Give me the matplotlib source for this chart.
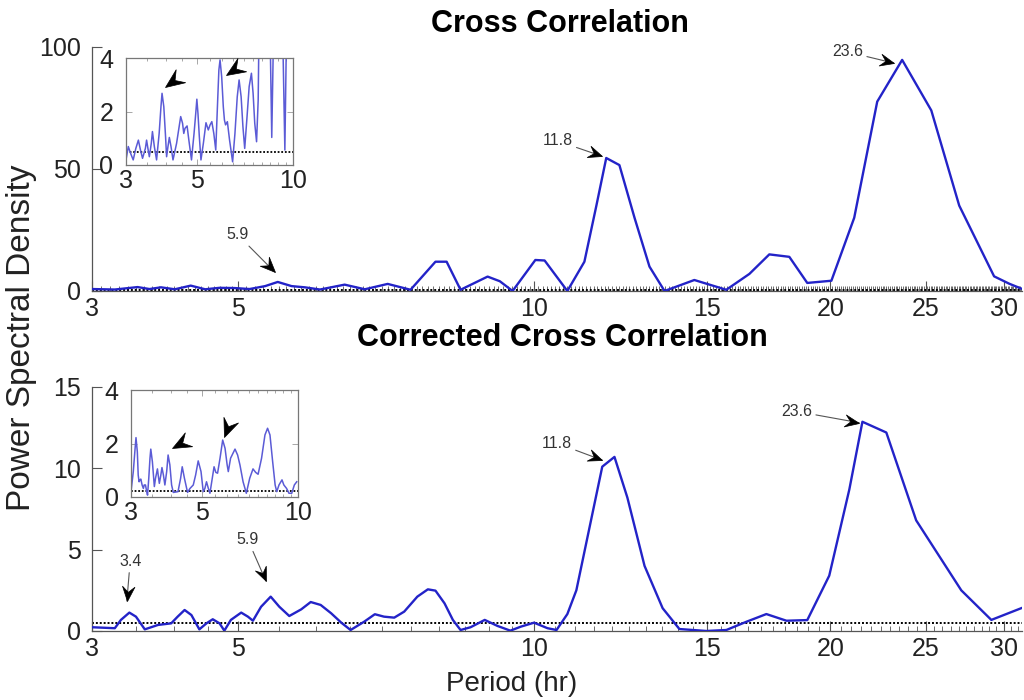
import numpy as np
import matplotlib
matplotlib.use("Agg")
import matplotlib.pyplot as plt
from matplotlib.path import Path
from matplotlib.ticker import FixedLocator, FixedFormatter, NullFormatter

plt.rcParams['font.family'] = ['Liberation Sans', 'DejaVu Sans']

LINE = "#2323c8"
INSET_LINE = "#5b5bd6"
SPINE = "#555555"
THRESH_MAIN = 0.5
THRESH_INSET_TOP = 0.5
THRESH_INSET_BOT = 0.22

# ---- spectra (period in hours, power spectral density) ----
top_period = [3.00, 3.25, 3.52, 3.67, 3.82, 4.01, 4.24, 4.46, 4.69, 4.95,
              5.14, 5.33, 5.49, 5.67, 5.85, 6.06, 6.42, 6.73, 7.10, 7.49,
              7.94, 8.15, 8.42, 8.97, 9.23, 9.51, 10.03, 10.25, 10.81, 11.25,
              11.57, 11.84, 12.21, 12.65, 13.10, 13.57, 14.55, 15.68, 16.55, 17.34,
              18.17, 18.95, 20.05, 21.15, 22.32, 23.66, 25.33, 27.04, 29.34, 30.39,
              31.26]
top_psd = [0.8, 0.6, 1.6, 0.8, 1.5, 0.7, 2.2, 0.7, 1.3, 1.2,
           0.8, 2.0, 3.7, 2.0, 1.5, 0.6, 2.6, 0.7, 2.9, 0.5,
           12.0, 12.0, 0.5, 5.9, 4.0, 0.0, 12.7, 12.5, 0.0, 12.0,
           35.0, 54.5, 51.6, 30.0, 10.0, 0.0, 4.5, 0.5, 7.0, 15.0,
           14.0, 3.3, 4.2, 30.0, 77.6, 94.7, 74.0, 35.0, 6.0, 3.0,
           1.0]

bot_period = [3.00, 3.25, 3.32, 3.42, 3.50, 3.61, 3.78, 3.96, 4.05, 4.15,
              4.25, 4.37, 4.48, 4.58, 4.69, 4.77, 4.88, 5.04, 5.12, 5.18,
              5.28, 5.40, 5.51, 5.64, 5.80, 5.93, 6.07, 6.22, 6.37, 6.51,
              6.72, 6.89, 7.04, 7.21, 7.38, 7.61, 7.80, 7.94, 8.11, 8.27,
              8.42, 8.62, 8.91, 9.18, 9.46, 9.70, 10.0, 10.32, 10.54, 10.81,
              11.04, 11.73, 12.07, 12.44, 12.95, 13.51, 14.05, 14.97, 15.68, 16.44,
              17.22, 18.05, 18.95, 19.95, 20.91, 21.56, 22.80, 24.45, 27.17, 29.15,
              31.26]
bot_psd = [0.23, 0.17, 0.68, 1.13, 0.88, 0.10, 0.37, 0.47, 0.88, 1.29,
           0.98, 0.10, 0.47, 0.72, 0.47, 0.02, 0.68, 1.13, 0.88, 0.63,
           1.49, 2.11, 1.49, 0.92, 1.33, 1.78, 1.60, 1.09, 0.51, 0.06,
           0.57, 1.03, 0.88, 0.82, 1.19, 2.11, 2.56, 2.48, 1.70, 0.68,
           0.06, 0.23, 0.68, 0.31, 0.02, 0.27, 0.51, 0.17, 0.06, 1.04,
           2.50, 10.1, 10.7, 8.2, 4.0, 1.4, 0.12, 0.0, 0.06, 0.57,
           1.04, 0.63, 0.67, 3.4, 8.7, 12.86, 12.2, 6.8, 2.5, 0.68,
           1.4]

# zoomed 3-10 h views
tin_period = [3.00, 3.05, 3.10, 3.16, 3.22, 3.28, 3.33, 3.38, 3.45, 3.48,
              3.52, 3.55, 3.60, 3.63, 3.68, 3.74, 3.81, 3.86, 3.89, 3.94,
              3.99, 4.02, 4.06, 4.10, 4.15, 4.21, 4.32, 4.40, 4.45, 4.51,
              4.55, 4.59, 4.66, 4.72, 4.81, 4.90, 4.96, 5.00, 5.04, 5.09,
              5.15, 5.24, 5.34, 5.39, 5.43, 5.50, 5.57, 5.65, 5.73, 5.81,
              5.86, 5.91, 5.98, 6.05, 6.10, 6.15, 6.23, 6.33, 6.47, 6.58,
              6.69, 6.78, 6.88, 6.97, 7.06, 7.18, 7.29, 7.41, 7.50, 7.59,
              7.69, 7.78, 7.95, 8.25, 8.45, 8.58, 8.72, 9.00, 9.25, 9.43,
              9.62, 10.0]
tin_psd = [0.19, 0.69, 0.44, 0.19, 0.62, 0.93, 0.56, 0.25, 0.62, 0.93,
           0.56, 0.31, 0.81, 1.25, 0.69, 0.19, 1.18, 2.18, 2.68, 2.18,
           1.06, 0.31, 0.69, 1.03, 0.69, 0.19, 0.81, 1.43, 1.81, 1.56,
           1.18, 1.37, 1.46, 0.93, 0.19, 1.18, 1.93, 2.46, 1.93, 1.06,
           0.19, 0.81, 1.58, 1.43, 1.31, 1.50, 1.62, 1.18, 0.56, 2.43,
           3.55, 3.93, 3.30, 2.18, 1.68, 1.50, 1.62, 0.93, 0.12, 1.18,
           2.55, 3.18, 2.55, 1.43, 0.62, 1.81, 2.93, 3.43, 2.68, 1.56,
           0.87, 2.43, 12.0, 12.0, 6.0, 1.03, 6.0, 6.0, 6.0, 0.56,
           8.0, 12.7]

bin_period = [3.00, 3.05, 3.09, 3.11, 3.14, 3.16, 3.18, 3.20, 3.22, 3.25,
              3.28, 3.30, 3.33, 3.36, 3.38, 3.41, 3.44, 3.46, 3.50, 3.55,
              3.58, 3.63, 3.65, 3.68, 3.72, 3.75, 3.79, 3.83, 3.88, 3.92,
              3.97, 4.02, 4.07, 4.21, 4.29, 4.34, 4.41, 4.51, 4.59, 4.70,
              4.78, 4.87, 4.97, 5.05, 5.11, 5.17, 5.24, 5.30, 5.39, 5.46,
              5.53, 5.60, 5.70, 5.81, 5.91, 6.00, 6.05, 6.15, 6.35, 6.47,
              6.58, 6.73, 6.89, 7.06, 7.23, 7.37, 7.50, 7.69, 7.88, 8.03,
              8.17, 8.33, 8.48, 8.58, 8.72, 8.91, 9.03, 9.21, 9.37, 9.56,
              9.74, 9.91]
bin_psd = [0.20, 0.95, 1.82, 2.22, 1.69, 0.82, 0.57, 0.64, 0.67, 0.45,
           0.32, 0.45, 0.45, 0.20, 0.07, 0.70, 1.45, 1.79, 1.32, 0.39,
           0.70, 1.05, 0.82, 0.51, 0.82, 1.10, 0.82, 0.45, 0.95, 1.57,
           1.20, 0.45, 0.17, 0.20, 0.70, 1.13, 0.70, 0.17, 0.32, 0.45,
           0.82, 1.35, 0.95, 0.20, 0.32, 0.57, 0.32, 0.14, 0.70, 1.13,
           0.92, 0.89, 1.45, 2.13, 1.82, 1.20, 0.95, 1.45, 1.79, 1.57,
           1.20, 0.57, 0.14, 0.70, 1.05, 0.92, 0.85, 1.45, 2.32, 2.57,
           2.32, 1.32, 0.45, 0.20, 0.45, 0.64, 0.45, 0.32, 0.14, 0.14,
           0.45, 0.57]

major_ticks = [3, 5, 10, 15, 20, 25, 30]
inset_ticks = [3, 5, 10]

# peak labels: (text, text position, arrow tip)
top_labels = [("5.9", (5.0, 23.0), (5.45, 7.8)),
              ("11.8", (10.56, 61.5), (11.71, 55.3)),
              ("23.6", (20.81, 98.0), (23.2, 93.4))]
bot_labels = [("3.4", (3.43, 4.3), (3.39, 1.84)),
              ("5.9", (5.12, 5.6), (5.34, 3.07)),
              ("11.8", (10.54, 11.55), (11.73, 10.5)),
              ("23.6", (18.47, 13.5), (21.4, 12.8))]
# inset arrowheads: (back, tip)
top_heads = [((4.32, 3.25), (3.97, 2.93)), ((6.81, 3.70), (6.16, 3.36))]
bot_heads = [((4.47, 2.13), (4.02, 1.84)), ((6.11, 2.81), (5.86, 2.25))]


# period axis: logarithmic above 5 h, compressed log between 3 and 5 h
P_KNEE = 5.0
K_LOW = 0.668


def fwd(p):
    p = np.asarray(p, dtype=float)
    with np.errstate(divide='ignore', invalid='ignore'):
        lp = np.log10(p)
    lk = np.log10(P_KNEE)
    return np.where(lp < lk, lk - K_LOW * (lk - lp), lp)


def inv(u):
    u = np.asarray(u, dtype=float)
    lk = np.log10(P_KNEE)
    return np.where(u < lk, 10 ** (lk - (lk - u) / K_LOW), 10 ** u)


def head_path(angle):
    """Concave arrowhead with its tip on the origin, pointing along angle."""
    verts = np.array([[0, 0], [-1, 0.42], [-0.62, 0], [-1, -0.42], [0, 0]])
    a = np.radians(angle)
    rot = np.array([[np.cos(a), -np.sin(a)], [np.sin(a), np.cos(a)]])
    codes = [Path.MOVETO, Path.LINETO, Path.LINETO, Path.LINETO, Path.CLOSEPOLY]
    return Path(verts @ rot.T, codes)


def draw_head(ax, start, tip, size):
    p0 = ax.transData.transform(start)
    p1 = ax.transData.transform(tip)
    ang = np.degrees(np.arctan2(p1[1] - p0[1], p1[0] - p0[0]))
    ax.plot([tip[0]], [tip[1]], marker=head_path(ang), markersize=size,
            color='black', mec='black', mew=0.5, ls='none', zorder=6,
            clip_on=False)


def style_main(ax, ymax, yticks, minor_step):
    ax.set_xscale('function', functions=(fwd, inv))
    ax.set_xlim(3, 31.3)
    ax.set_ylim(0, ymax)
    for s in ('top', 'right'):
        ax.spines[s].set_visible(False)
    for s in ('left', 'bottom'):
        ax.spines[s].set_color(SPINE)
        ax.spines[s].set_linewidth(0.9)
    ax.xaxis.set_major_locator(FixedLocator(major_ticks))
    ax.xaxis.set_major_formatter(FixedFormatter([str(t) for t in major_ticks]))
    ax.xaxis.set_minor_locator(FixedLocator(np.arange(3, 31.3, minor_step)))
    ax.xaxis.set_minor_formatter(NullFormatter())
    ax.set_yticks(yticks)
    ax.tick_params(which='major', direction='in', length=7, width=0.8,
                   color=SPINE, labelsize=18, labelcolor='#222222')
    ax.tick_params(axis='y', pad=8)
    ax.tick_params(axis='x', pad=4)
    ax.tick_params(which='minor', direction='in', length=3.5, width=0.6,
                   color=SPINE)
    ax.patch.set_alpha(0)


def style_inset(ax):
    ax.set_xscale('log')
    ax.set_xlim(3, 10)
    ax.set_ylim(0, 4)
    for s in ax.spines.values():
        s.set_color('#777777')
        s.set_linewidth(0.9)
    ax.xaxis.set_major_locator(FixedLocator(inset_ticks))
    ax.xaxis.set_major_formatter(FixedFormatter([str(t) for t in inset_ticks]))
    ax.xaxis.set_minor_locator(FixedLocator(np.arange(3.5, 10, 0.5)))
    ax.xaxis.set_minor_formatter(NullFormatter())
    ax.set_yticks([0, 2, 4])
    ax.tick_params(which='both', direction='in', top=True, right=True,
                   color='#999999', width=0.6)
    ax.tick_params(which='major', length=4, labelsize=18, labelcolor='#222222')
    ax.tick_params(which='minor', length=2.5)
    ax.tick_params(axis='y', pad=9)
    ax.tick_params(axis='x', pad=3)


def add_labels(ax, labels):
    for txt, xytext, xy in labels:
        ax.annotate(txt, xy=xy, xytext=xytext, fontsize=11.5, color='#333333',
                    ha='center', va='center',
                    arrowprops=dict(arrowstyle='-', color='#555555', lw=0.8,
                                    shrinkA=1, shrinkB=0))
        draw_head(ax, xytext, xy, 22)


def add_heads(ax, heads):
    for back, tip in heads:
        draw_head(ax, back, tip, 29)


fig = plt.figure(figsize=(10.24, 7.0), dpi=100)

ax1 = fig.add_axes([0.0898, 0.5843, 0.908, 0.3486])
style_main(ax1, 100, [0, 50, 100], 0.1)
ax1.axhline(THRESH_MAIN, color='black', ls=(0, (1, 1)), lw=1.4, zorder=2)
ax1.plot(top_period, top_psd, color=LINE, lw=1.7, zorder=3)
add_labels(ax1, top_labels)

ax2 = fig.add_axes([0.0898, 0.0986, 0.908, 0.3486])
style_main(ax2, 15, [0, 5, 10, 15], 0.5)
ax2.axhline(THRESH_MAIN, color='black', ls=(0, (1, 1)), lw=1.4, zorder=2)
ax2.plot(bot_period, bot_psd, color=LINE, lw=1.7, zorder=3)
add_labels(ax2, bot_labels)

in1 = fig.add_axes([126 / 1024, 1 - 165 / 700, 167 / 1024, 107 / 700])
style_inset(in1)
in1.axhline(THRESH_INSET_TOP, color='black', ls=(0, (1, 1)), lw=1.3)
in1.plot(tin_period, tin_psd, color=INSET_LINE, lw=1.1)
add_heads(in1, top_heads)

in2 = fig.add_axes([131 / 1024, 1 - 497 / 700, 167 / 1024, 107 / 700])
style_inset(in2)
in2.axhline(THRESH_INSET_BOT, color='black', ls=(0, (1, 1)), lw=1.3)
in2.plot(bin_period, bin_psd, color=INSET_LINE, lw=1.1)
add_heads(in2, bot_heads)

fig.text(560 / 1024, 1 - 24 / 700, "Cross Correlation", fontsize=22,
         fontweight='bold', ha='center', va='center')
fig.text(562 / 1024, 1 - 338 / 700, "Corrected Cross Correlation", fontsize=22,
         fontweight='bold', ha='center', va='center')
fig.text(22 / 1024, 1 - 338 / 700, "Power Spectral Density", fontsize=24,
         rotation=90, ha='center', va='center', color='#222222')
fig.text(512 / 1024, 1 - 684 / 700, "Period (hr)", fontsize=20,
         ha='center', va='center', color='#222222')

fig.savefig("out.png", dpi=100)
